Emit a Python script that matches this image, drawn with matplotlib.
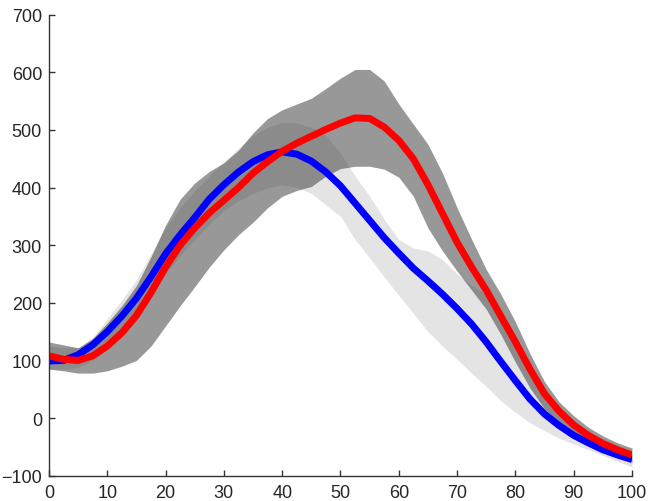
import numpy as np
import matplotlib as mpl
mpl.use('agg')
import matplotlib.pyplot as plt

plt.rcParams['font.family'] = ['Liberation Sans', 'DejaVu Sans']

# gait cycle (%)
x = [0, 2.5, 5, 7.5, 10, 12.5, 15, 17.5, 20, 22.5, 25, 27.5, 30, 32.5, 35, 37.5, 40,
     42.5, 45, 47.5, 50, 52.5, 55, 57.5, 60, 62.5, 65, 67.5, 70, 72.5, 75, 77.5, 80,
     82.5, 85, 87.5, 90, 92.5, 95, 97.5, 100]

# blue curve and its band (light gray)
blue_mean = [99, 100, 110, 127, 150, 177, 208, 245, 285, 318, 348, 380, 405, 427, 445, 457, 462,
             458, 446, 427, 403, 373, 343, 313, 286, 260, 238, 215, 190, 163, 132, 98, 65,
             33, 7, -13, -30, -43, -55, -64, -72]
blue_upper = [125, 122, 122, 140, 172, 205, 240, 285, 330, 365, 395, 420, 445, 468, 490, 505, 513,
              512, 505, 490, 460, 420, 385, 345, 310, 295, 290, 275, 250, 230, 215, 170, 120,
              75, 40, 10, -15, -32, -45, -55, -62]
blue_lower = [85, 85, 88, 100, 120, 142, 170, 208, 250, 282, 310, 337, 360, 377, 390, 400, 405,
              400, 390, 370, 350, 310, 278, 245, 213, 182, 150, 125, 102, 78, 55, 30, 10,
              -8, -22, -35, -45, -55, -65, -75, -85]

# red curve and its band (dark gray)
red_mean = [108, 102, 100, 108, 125, 148, 178, 218, 262, 300, 330, 356, 378, 400, 425, 445, 463,
            477, 489, 501, 512, 521, 520, 505, 482, 450, 405, 355, 305, 262, 222, 177, 132,
            85, 42, 12, -12, -30, -44, -55, -64]
red_upper = [132, 127, 122, 138, 165, 195, 230, 280, 335, 380, 408, 428, 443, 465, 495, 520, 535,
             545, 555, 572, 590, 605, 605, 585, 545, 510, 475, 425, 365, 310, 258, 215, 167,
             112, 63, 28, 4, -16, -31, -43, -52]
red_lower = [85, 82, 78, 78, 82, 90, 100, 125, 160, 195, 228, 262, 292, 318, 340, 365, 385,
             395, 402, 420, 433, 437, 437, 432, 418, 385, 330, 290, 255, 222, 189, 145, 97,
             52, 16, -8, -24, -38, -50, -63, -77]

fig = plt.figure(figsize=(6.48, 5.02), dpi=100)
ax = fig.add_axes([0.0756, 0.0504, 0.8997, 0.9183])

ax.fill_between(x, blue_lower, blue_upper, color='#e4e4e4', linewidth=0)
ax.fill_between(x, red_lower, red_upper, color=(0.2, 0.2, 0.2), alpha=0.5, linewidth=0)
ax.plot(x, blue_mean, color='#0000ff', linewidth=5, solid_joinstyle='round', solid_capstyle='butt')
ax.plot(x, red_mean, color='#ff0000', linewidth=5, solid_joinstyle='round', solid_capstyle='butt')

ax.set_xlim(0, 100)
ax.set_ylim(-100, 700)
ax.set_xticks(range(0, 101, 10))
ax.set_yticks(range(-100, 701, 100))

for s in ['top', 'right']:
    ax.spines[s].set_visible(False)
for s in ['left', 'bottom']:
    ax.spines[s].set_color('#333333')
    ax.spines[s].set_linewidth(1)

ax.tick_params(direction='in', length=4, width=1, color='#333333',
               labelsize=13, labelcolor='#262626')
ax.tick_params(axis='y', pad=5)
ax.tick_params(axis='x', pad=6)

fig.savefig('out.png', dpi=100)
